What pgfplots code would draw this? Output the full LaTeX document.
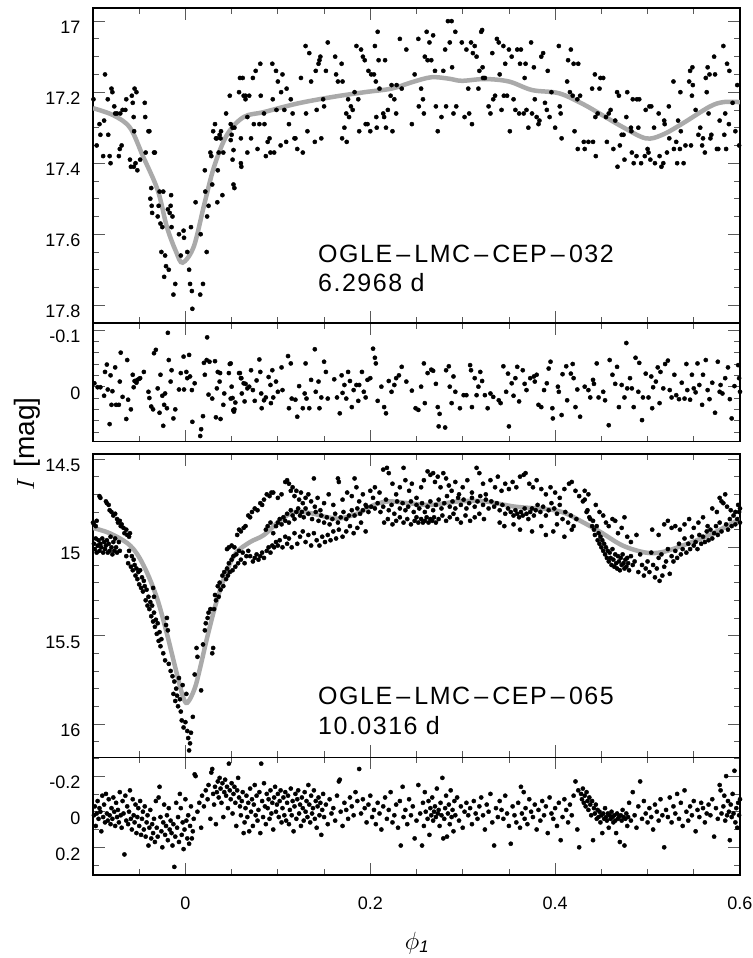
\documentclass[border=0pt]{standalone}
\usepackage{fontspec}
\setmainfont{Liberation Sans}
\newfontfamily\annfont[LetterSpace=6]{Liberation Sans}
\usepackage{pgfplots}
\pgfplotsset{compat=1.18}
\definecolor{fitgray}{RGB}{170,170,170}
\pgfplotsset{
  panel/.style={
    scale only axis, width=647pt, xmin=-0.1, xmax=0.6, y dir=reverse,
    anchor=north west, tick align=inside,
    xtick={0,0.2,0.4,0.6},
    minor xtick={-0.05,0.05,0.1,0.15,0.25,0.3,0.35,0.45,0.5,0.55},
    xticklabels={},
    major tick length=12pt, minor tick length=6pt,
    axis line style={line width=1.5pt},
    tick style={line width=0.8pt, black!65},
    yticklabel style={font=\fontsize{18}{18}\selectfont, xshift=-9pt, yshift=-6.5pt},
    xticklabel style={font=\fontsize{18}{18}\selectfont, yshift=-18.5pt},
    /pgf/number format/assume math mode=true,
  },
  dots/.style={only marks, mark=*, mark size=2.1pt, mark options={draw=none, fill=black}},
  fit/.style={no marks, smooth, tension=0.55, line width=4.5pt, color=fitgray},
}
\begin{document}
\begin{tikzpicture}[x=1pt,y=1pt]
\useasboundingbox (0,0) rectangle (752,-958);

% ---------------- Panel 1 ----------------
\begin{axis}[panel, at={(93pt,-8pt)}, height=315pt, ymin=16.963, ymax=17.85,
  ytick={17,17.2,17.4,17.6,17.8}, yticklabels={17,17.2,17.4,17.6,17.8},
  minor ytick={17.05,17.1,17.15,17.25,17.3,17.35,17.45,17.5,17.55,17.65,17.7,17.75}]
\addplot[fit] coordinates {(-0.1,17.245)(-0.078,17.265)(-0.060,17.30)(-0.046,17.38)(-0.030,17.476)(-0.020,17.58)(-0.010,17.65)(-0.003,17.68)(0.009,17.635)(0.020,17.52)(0.031,17.41)(0.045,17.32)(0.063,17.27)(0.085,17.256)(0.121,17.232)(0.158,17.214)(0.194,17.20)(0.223,17.19)(0.245,17.172)(0.266,17.158)(0.285,17.162)(0.299,17.168)(0.324,17.163)(0.35,17.17)(0.375,17.194)(0.404,17.203)(0.429,17.232)(0.448,17.26)(0.473,17.298)(0.498,17.33)(0.516,17.32)(0.538,17.288)(0.567,17.241)(0.582,17.228)(0.6,17.228)};
\addplot[dots] coordinates {
(-0.0995,17.22)(-0.096,17.35)(-0.093,17.29)(-0.092,17.32)(-0.088,17.28)(-0.087,17.15)(-0.089,17.38)(-0.084,17.22)(-0.0835,17.32)(-0.082,17.38)(-0.081,17.40)(-0.080,17.19)(-0.079,17.20)(-0.077,17.24)(-0.076,17.26)(-0.074,17.26)(-0.072,17.38)(-0.071,17.36)(-0.0705,17.26)(-0.069,17.35)(-0.068,17.25)(-0.065,17.25)(-0.064,17.22)(-0.060,17.39)(-0.059,17.41)(-0.058,17.21)(-0.057,17.23)(-0.056,17.27)(-0.0555,17.31)(-0.0558,17.41)(-0.055,17.19)(-0.054,17.40)(-0.053,17.20)(-0.052,17.42)(-0.049,17.39)(-0.044,17.23)(-0.0435,17.27)(-0.043,17.37)(-0.040,17.31)(-0.039,17.31)(-0.037,17.47)(-0.038,17.50)(-0.0365,17.52)(-0.036,17.54)(-0.034,17.37)(-0.033,17.37)(-0.030,17.55)(-0.029,17.52)(-0.028,17.48)(-0.027,17.57)(-0.026,17.65)(-0.025,17.58)(-0.024,17.48)(-0.023,17.72)(-0.022,17.66)(-0.021,17.69)(-0.019,17.53)(-0.018,17.70)(-0.017,17.54)(-0.016,17.52)(-0.0155,17.49)(-0.015,17.58)(-0.014,17.55)(-0.013,17.77)(-0.011,17.74)(-0.007,17.60)(-0.005,17.66)(-0.002,17.59)(-0.0015,17.61)(0.002,17.65)(0.004,17.70)(0.005,17.74)(0.007,17.76)(0.006,17.58)(0.0075,17.81)(0.011,17.51)(0.016,17.77)(0.0165,17.60)(0.019,17.74)(0.021,17.42)(0.0215,17.48)(0.023,17.65)(0.0235,17.55)(0.025,17.52)(0.027,17.37)(0.028,17.38)(0.029,17.46)(0.030,17.31)(0.032,17.29)(0.033,17.33)(0.034,17.33)(0.0345,17.51)(0.035,17.42)(0.036,17.37)(0.038,17.33)(0.037,17.32)(0.0385,17.31)(0.040,17.49)(0.041,17.37)(0.044,17.26)(0.048,17.21)(0.049,17.29)(0.050,17.32)(0.051,17.30)(0.052,17.46)(0.053,17.30)(0.058,17.20)(0.059,17.16)(0.060,17.40)(0.063,17.21)(0.065,17.21)(0.067,17.27)
(0.049,17.335)(0.052,17.363)(0.051,17.39)(0.053,17.47)(0.060,17.33)(0.0605,17.41)(0.062,17.16)(0.065,17.22)(0.067,17.37)(0.069,17.21)(0.071,17.33)(0.073,17.16)(0.074,17.29)(0.076,17.14)(0.078,17.36)(0.080,17.29)(0.081,17.12)(0.0815,17.21)(0.085,17.26)(0.0855,17.29)(0.087,17.38)(0.089,17.34)(0.091,17.33)(0.092,17.37)(0.094,17.12)(0.0945,17.22)(0.096,17.37)(0.098,17.14)(0.0985,17.25)(0.100,17.17)(0.103,17.35)(0.1035,17.20)(0.105,17.15)(0.107,17.25)(0.109,17.34)(0.1095,17.19)(0.112,17.29)(0.114,17.22)(0.116,17.26)(0.118,17.33)(0.119,17.33)(0.121,17.36)(0.125,17.16)(0.127,17.37)(0.130,17.07)(0.1305,17.26)(0.132,17.31)(0.134,17.09)(0.136,17.17)(0.140,17.34)(0.141,17.14)(0.142,17.25)(0.144,17.12)(0.145,17.11)(0.146,17.10)(0.147,17.33)(0.149,17.22)(0.150,17.24)(0.152,17.14)(0.154,17.06)(0.162,17.10)(0.163,17.15)(0.165,17.17)(0.169,17.12)(0.1695,17.33)(0.170,17.17)(0.172,17.30)(0.174,17.26)(0.1745,17.34)(0.176,17.22)(0.177,17.27)(0.179,17.24)(0.181,17.25)(0.183,17.20)(0.185,17.07)(0.187,17.22)(0.188,17.31)(0.190,17.08)(0.192,17.10)(0.194,17.11)(0.195,17.29)(0.197,17.29)(0.198,17.14)(0.200,17.31)(0.201,17.15)(0.204,17.15)(0.205,17.07)(0.206,17.17)(0.2065,17.27)(0.207,17.30)(0.208,17.03)(0.209,17.11)(0.210,17.19)(0.214,17.26)(0.215,17.27)(0.216,17.11)(0.217,17.30)(0.219,17.25)(0.222,17.21)(0.223,17.18)(0.224,17.31)(0.226,17.22)(0.228,17.26)(0.2285,17.18)(0.232,17.05)(0.234,17.19)(0.239,17.08)(0.245,17.29)(0.248,17.15)(0.252,17.05)(0.2525,17.24)(0.255,17.19)(0.257,17.22)(0.258,17.26)(0.259,17.10)(0.261,17.03)(0.262,17.11)(0.264,17.06)(0.266,17.11)(0.268,17.04)(0.270,17.14)(0.271,17.24)(0.273,17.31)(0.277,17.27)(0.279,17.14)(0.281,17.08)(0.282,17.24)(0.284,17.00)(0.286,17.06)(0.288,17.00)(0.2885,17.13)(0.290,17.26)(0.292,17.03)(0.293,17.24)(0.299,17.06)(0.302,17.27)(0.304,17.08)(0.306,17.19)(0.307,17.26)(0.309,17.06)(0.310,17.29)(0.311,17.09)(0.313,17.07)(0.315,17.10)(0.317,17.19)(0.318,17.14)(0.320,17.03)(0.322,17.16)
(0.321,17.025)(0.3215,17.13)(0.324,17.16)(0.328,17.24)(0.330,17.26)(0.332,17.09)(0.333,17.22)(0.335,17.21)(0.337,17.05)(0.339,17.06)(0.340,17.15)(0.342,17.25)(0.344,17.07)(0.3445,17.21)(0.346,17.12)(0.348,17.21)(0.350,17.08)(0.351,17.31)(0.353,17.10)(0.355,17.22)(0.357,17.25)(0.359,17.08)(0.361,17.26)(0.362,17.12)(0.363,17.08)(0.366,17.26)(0.367,17.16)(0.368,17.12)(0.369,17.25)(0.371,17.30)(0.374,17.06)(0.375,17.26)(0.377,17.13)(0.378,17.22)(0.380,17.27)(0.382,17.29)(0.383,17.28)(0.385,17.10)(0.387,17.09)(0.389,17.23)(0.391,17.25)(0.392,17.14)(0.394,17.27)(0.396,17.20)(0.400,17.30)(0.404,17.07)(0.405,17.24)(0.406,17.26)(0.407,17.33)(0.413,17.17)(0.414,17.11)(0.416,17.20)(0.417,17.08)(0.419,17.21)(0.420,17.12)(0.421,17.31)(0.424,17.22)(0.4245,17.36)(0.425,17.12)(0.427,17.21)(0.431,17.34)(0.432,17.36)(0.436,17.34)(0.440,17.19)(0.441,17.34)(0.443,17.15)(0.4435,17.27)(0.444,17.38)(0.446,17.26)(0.448,17.19)(0.449,17.16)(0.452,17.16)(0.455,17.27)(0.456,17.34)(0.458,17.26)(0.460,17.25)(0.463,17.36)(0.465,17.28)(0.467,17.20)(0.4675,17.41)(0.469,17.21)(0.470,17.35)(0.472,17.32)(0.474,17.32)(0.475,17.39)(0.477,17.27)(0.478,17.20)(0.482,17.30)(0.4825,17.31)(0.483,17.37)(0.484,17.22)(0.485,17.40)(0.488,17.38)(0.4885,17.22)(0.490,17.30)(0.491,17.22)(0.493,17.40)(0.497,17.38)(0.498,17.25)(0.500,17.36)(0.501,17.37)(0.502,17.24)(0.503,17.39)(0.504,17.24)(0.507,17.30)(0.508,17.40)(0.512,17.26)(0.513,17.38)(0.515,17.41)(0.517,17.40)(0.518,17.28)(0.5185,17.29)(0.521,17.37)(0.523,17.24)(0.5235,17.33)(0.528,17.17)(0.5285,17.36)(0.531,17.34)(0.532,17.40)(0.533,17.28)(0.535,17.36)(0.5355,17.20)(0.536,17.31)(0.539,17.40)(0.541,17.35)(0.545,17.17)(0.546,17.14)(0.547,17.35)(0.548,17.21)(0.5485,17.13)(0.549,17.18)(0.552,17.25)(0.555,17.32)(0.557,17.30)(0.559,17.35)(0.560,17.33)(0.562,17.37)(0.563,17.16)(0.564,17.20)(0.565,17.13)(0.566,17.26)(0.567,17.15)(0.568,17.33)(0.569,17.32)(0.572,17.10)(0.573,17.15)(0.575,17.36)(0.5765,17.36)(0.578,17.28)(0.582,17.07)(0.583,17.32)(0.584,17.26)(0.585,17.36)(0.586,17.12)(0.588,17.29)(0.5885,17.14)(0.592,17.23)(0.595,17.31)(0.597,17.18)(0.599,17.35)
};
\end{axis}

% ---------------- Panel 2 ----------------
\begin{axis}[panel, at={(93pt,-323pt)}, height=118.5pt, ymin=-0.1123, ymax=0.0967,
  ytick={-0.1,0}, yticklabels={-0.1,0},
  minor ytick={-0.08,-0.06,-0.04,-0.02,0.02,0.04,0.06,0.08}]
\addplot[dots] coordinates {
(-0.0985,-0.006)(-0.095,0.001)(-0.092,0.001)(-0.088,0.016)(-0.087,-0.026)(-0.085,-0.039)(-0.084,0.005)(-0.082,0.066)(-0.081,-0.020)(-0.080,0.032)(-0.079,0.008)(-0.076,-0.034)(-0.075,0.032)(-0.072,0.032)(-0.071,-0.009)(-0.070,-0.060)(-0.068,0.018)(-0.064,0.057)(-0.063,-0.047)(-0.062,0.023)(-0.059,0.040)(-0.057,-0.021)(-0.056,0.001)(-0.055,-0.010)(-0.053,-0.007)(-0.052,-0.012)(-0.050,-0.014)(-0.049,-0.015)(-0.045,-0.026)(-0.040,0.009)(-0.039,0.020)(-0.037,0.035)(-0.035,0.040)(-0.034,-0.059)(-0.032,-0.065)(-0.030,0.003)(-0.028,0.046)(-0.027,-0.021)(-0.025,0.016)(-0.024,0.069)(-0.023,0.032)(-0.022,0.012)(-0.020,0.038)(-0.019,-0.095)(-0.018,-0.047)(-0.016,-0.009)(-0.015,-0.029)(-0.013,0.056)(-0.011,0.040)(-0.007,0.005)(-0.005,-0.024)(-0.002,-0.053)(-0.0015,0.005)(0.001,-0.026)(0.002,-0.015)(0.004,-0.056)(0.005,-0.018)(0.007,0.006)(0.0075,0.062)(0.010,-0.006)(0.016,0.087)(0.017,0.075)(0.019,0.052)(0.020,-0.042)(0.021,-0.021)(0.023,-0.047)(0.0235,-0.087)(0.025,0.014)(0.026,-0.044)(0.029,0.021)(0.032,-0.045)(0.033,0.054)(0.034,0.003)(0.035,-0.026)(0.037,-0.009)(0.038,0.057)(0.0375,-0.024)(0.041,0.032)(0.042,0.012)(0.047,-0.024)(0.048,-0.040)(0.049,0.021)(0.052,0.042)(0.053,0.040)(0.054,0.028)(0.059,-0.024)(0.060,-0.015)(0.061,0.012)(0.065,-0.005)(0.069,0.000)
(0.049,-0.041)(0.050,0.000)(0.051,0.020)(0.052,0.041)(0.0525,0.044)(0.058,-0.024)(0.0605,-0.015)(0.063,-0.006)(0.064,0.026)(0.067,0.003)(0.071,-0.029)(0.073,0.006)(0.075,0.025)(0.077,-0.011)(0.080,-0.048)(0.081,-0.026)(0.082,0.012)(0.0825,0.038)(0.085,0.024)(0.087,0.019)(0.090,-0.017)(0.092,-0.003)(0.0925,0.029)(0.094,-0.029)(0.095,0.019)(0.098,-0.009)(0.100,0.009)(0.104,-0.034)(0.105,0.006)(0.111,-0.054)(0.112,0.038)(0.114,-0.041)(0.115,0.021)(0.119,0.023)(0.121,0.053)(0.123,-0.001)(0.127,0.038)(0.129,0.012)(0.130,-0.041)(0.131,0.021)(0.134,0.038)(0.136,-0.012)(0.140,-0.066)(0.141,0.009)(0.144,-0.009)(0.145,0.038)(0.147,0.019)(0.150,-0.044)(0.152,-0.026)(0.154,0.021)(0.161,-0.013)(0.164,0.019)(0.167,0.047)(0.169,-0.020)(0.170,0.011)(0.172,-0.003)(0.174,0.021)(0.176,-0.026)(0.178,-0.010)(0.180,0.036)(0.182,0.006)(0.185,-0.003)(0.187,0.025)(0.188,-0.003)(0.191,-0.026)(0.193,0.009)(0.195,0.019)(0.197,-0.012)(0.200,-0.015)(0.203,-0.067)(0.205,-0.051)(0.206,-0.041)(0.208,0.025)(0.212,0.000)(0.215,0.036)(0.217,0.047)(0.220,-0.010)(0.223,0.009)(0.226,-0.003)(0.228,-0.015)(0.231,-0.020)(0.234,-0.035)(0.239,-0.009)(0.245,0.007)(0.249,0.038)(0.252,0.041)(0.255,0.000)(0.258,-0.041)(0.259,0.029)(0.262,-0.024)(0.266,-0.030)(0.268,-0.028)(0.271,-0.005)(0.273,0.036)(0.274,0.070)(0.275,0.048)(0.281,0.072)(0.282,-0.029)(0.285,-0.036)(0.286,0.000)(0.288,0.029)(0.290,-0.018)(0.292,0.009)(0.297,0.038)(0.301,0.015)(0.304,0.015)(0.308,-0.038)(0.309,-0.029)(0.310,0.036)(0.313,-0.015)(0.315,0.015)(0.317,0.000)(0.319,-0.026)(0.321,-0.010)(0.324,0.015)(0.327,0.038)(0.330,0.012)(0.333,0.018)(0.339,0.024)(0.341,0.029)(0.344,-0.036)(0.347,0.009)(0.349,-0.023)(0.350,0.070)(0.353,-0.006)(0.355,0.016)(0.357,-0.015)(0.359,-0.035)(0.361,0.026)(0.365,-0.029)(0.367,-0.005)(0.369,0.006)(0.373,-0.015)(0.377,-0.018)(0.378,-0.009)(0.380,-0.021)(0.382,0.032)(0.385,0.036)(0.388,0.006)(0.391,-0.006)(0.393,-0.032)(0.395,-0.044)(0.397,0.038)(0.3975,0.056)(0.403,0.000)(0.404,0.009)(0.407,0.050)(0.408,-0.022)(0.412,-0.036)(0.413,0.024)(0.417,-0.023)(0.419,-0.040)(0.420,-0.015)(0.422,0.036)(0.424,0.005)(0.427,0.053)(0.432,0.000)(0.436,0.006)(0.438,0.019)(0.441,-0.012)(0.442,-0.005)(0.445,-0.041)(0.447,0.019)(0.452,0.009)(0.454,0.024)(0.458,0.068)(0.459,-0.047)(0.462,-0.021)(0.465,-0.005)(0.467,-0.035)(0.469,0.036)(0.472,-0.003)(0.475,0.019)(0.477,-0.077)(0.478,0.003)(0.481,-0.015)(0.483,0.003)(0.485,0.036)(0.487,-0.051)(0.490,0.009)(0.491,-0.042)(0.494,0.059)(0.495,0.019)(0.498,-0.023)(0.501,0.019)(0.504,-0.018)(0.505,0.038)(0.506,0.001)(0.509,-0.009)(0.511,-0.034)(0.513,0.029)(0.514,-0.026)(0.517,0.003)(0.519,-0.040)(0.522,-0.046)(0.524,0.006)(0.526,0.019)(0.529,-0.021)(0.531,0.015)(0.534,0.022)(0.537,-0.007)(0.540,0.021)(0.542,-0.040)(0.543,0.006)(0.546,0.023)(0.548,-0.021)(0.550,0.003)(0.552,0.010)(0.554,-0.041)(0.556,-0.003)(0.559,0.032)(0.560,-0.021)(0.563,-0.047)(0.565,0.006)(0.567,0.022)(0.570,-0.007)(0.573,0.046)(0.576,-0.044)(0.578,0.009)(0.579,-0.003)(0.581,0.012)(0.584,-0.015)(0.587,-0.034)(0.589,0.022)(0.591,0.056)(0.594,-0.001)(0.598,-0.038)(0.599,-0.015)(0.600,0.009)
};
\end{axis}

% ---------------- Panel 3 ----------------
\begin{axis}[panel, at={(93pt,-454pt)}, height=303.3pt, ymin=14.4717, ymax=16.189,
  ytick={14.5,15,15.5,16}, yticklabels={14.5,15,15.5,16},
  minor ytick={14.6,14.7,14.8,14.9,15.1,15.2,15.3,15.4,15.6,15.7,15.8,15.9,16.1}]
\addplot[fit] coordinates {(-0.1,14.89)(-0.082,14.92)(-0.063,14.976)(-0.052,15.04)(-0.041,15.15)(-0.03,15.30)(-0.02,15.49)(-0.011,15.68)(-0.003,15.84)(0.002,15.88)(0.010,15.80)(0.016,15.68)(0.024,15.50)(0.034,15.30)(0.045,15.13)(0.055,15.03)(0.07,14.97)(0.085,14.93)(0.103,14.845)(0.118,14.80)(0.136,14.807)(0.154,14.83)(0.168,14.836)(0.187,14.807)(0.204,14.76)(0.22,14.74)(0.241,14.75)(0.266,14.76)(0.296,14.74)(0.324,14.74)(0.357,14.77)(0.393,14.785)(0.411,14.807)(0.429,14.855)(0.448,14.91)(0.473,14.99)(0.498,15.03)(0.516,15.027)(0.538,14.99)(0.567,14.93)(0.6,14.84)};
\addplot[dots] coordinates {
(-0.099,14.98)(-0.098,15.01)(-0.097,14.95)(-0.096,15.03)(-0.095,14.99)(-0.094,14.96)(-0.093,15.02)(-0.092,14.98)(-0.091,15.0)(-0.090,14.95)(-0.089,15.03)(-0.088,14.97)(-0.087,15.01)(-0.086,14.99)(-0.085,14.96)(-0.084,15.03)(-0.083,14.98)(-0.082,15.02)(-0.081,14.94)(-0.080,15.0)(-0.079,15.04)(-0.078,14.97)(-0.077,15.02)(-0.076,14.95)(-0.075,15.0)(-0.074,15.03)(-0.072,14.97)(-0.071,15.02)
(-0.1,14.86)(-0.099,14.87)(-0.097,14.88)(-0.096,14.85)(-0.093,14.71)(-0.092,14.72)(-0.086,14.74)(-0.085,14.75)(-0.083,14.76)(-0.082,14.79)(-0.080,14.80)(-0.078,14.82)(-0.076,14.81)(-0.074,14.84)(-0.073,14.86)(-0.071,14.85)(-0.070,14.88)(-0.069,14.87)(-0.067,14.89)(-0.066,14.92)(-0.064,14.90)(-0.063,14.93)(-0.061,14.94)(-0.060,14.92)
(-0.064,15.05)(-0.062,15.09)(-0.061,15.02)(-0.059,15.11)(-0.058,15.05)(-0.057,15.13)(-0.056,15.07)(-0.055,15.10)(-0.054,15.16)(-0.053,15.12)(-0.052,15.18)(-0.051,15.14)(-0.050,15.21)(-0.049,15.13)(-0.048,15.23)(-0.047,15.17)(-0.046,15.25)(-0.045,15.19)(-0.044,15.22)(-0.043,15.30)(-0.042,15.24)(-0.041,15.33)(-0.040,15.28)(-0.039,15.35)(-0.038,15.31)(-0.037,15.39)(-0.036,15.33)(-0.035,15.42)(-0.034,15.37)(-0.033,15.45)(-0.032,15.41)(-0.031,15.49)(-0.030,15.43)(-0.029,15.53)(-0.028,15.48)(-0.027,15.56)(-0.026,15.52)(-0.035,15.23)(-0.034,15.28)(-0.020,15.40)(-0.021,15.44)(-0.019,15.47)
(-0.024,15.60)(-0.022,15.64)(-0.018,15.66)(-0.016,15.70)(-0.014,15.73)(-0.012,15.76)(-0.010,15.80)(-0.013,15.83)(-0.011,15.87)(-0.008,15.90)(-0.006,15.86)(-0.005,15.93)(-0.004,15.98)(-0.002,16.02)(0.0,15.99)(0.002,16.04)(0.003,16.08)(0.005,16.11)(0.004,16.15)(0.006,16.05)(0.008,15.96)(-0.009,15.84)(-0.003,15.78)(0.001,15.83)(-0.007,15.74)
(0.010,15.72)(0.012,15.57)(0.013,15.62)(0.017,15.81)(0.019,15.55)(0.021,15.47)(0.022,15.43)(0.024,15.40)(0.025,15.37)(0.027,15.35)(0.029,15.60)(0.030,15.57)(0.031,15.35)(0.032,15.27)(0.033,15.30)(0.035,15.22)(0.036,15.28)(0.037,15.20)(0.038,15.24)(0.040,15.16)(0.041,15.22)(0.042,15.14)(0.044,15.18)(0.045,15.12)(0.046,15.16)(0.047,15.09)(0.048,15.14)(0.050,15.07)(0.051,15.13)(0.052,15.05)(0.054,15.11)(0.055,15.04)(0.057,15.09)(0.058,15.02)(0.060,15.07)(0.062,15.03)(0.064,15.09)(0.066,15.05)(0.068,15.02)
(0.045,15.01)(0.047,15.0)(0.050,14.99)(0.053,15.0)(0.056,14.93)(0.058,14.90)(0.060,14.91)(0.063,14.89)(0.065,14.88)(0.068,14.82)(0.070,14.83)(0.072,14.80)(0.075,14.78)(0.078,14.79)(0.081,14.75)(0.083,14.76)(0.085,14.73)(0.088,14.70)(0.091,14.71)(0.093,14.69)(0.095,14.69)
(0.070,15.05)(0.073,15.08)(0.075,15.06)(0.077,15.04)(0.079,15.07)(0.081,15.05)(0.083,15.03)(0.085,15.06)(0.088,15.02)(0.090,15.0)(0.092,15.03)(0.094,14.99)(0.096,15.0)(0.098,14.97)(0.100,14.99)
(0.087,14.90)(0.089,14.88)(0.092,14.86)(0.095,14.92)(0.098,14.88)(0.100,14.86)(0.102,14.84)(0.104,14.87)(0.106,14.83)(0.108,14.85)(0.110,14.81)(0.112,14.86)(0.114,14.79)(0.116,14.82)(0.118,14.84)(0.120,14.80)(0.122,14.78)(0.124,14.82)(0.126,14.80)(0.128,14.83)(0.130,14.78)
(0.102,14.96)(0.105,15.00)(0.108,14.94)(0.110,14.98)(0.112,14.95)(0.115,15.00)(0.118,14.92)(0.121,14.98)(0.124,14.94)(0.127,14.91)(0.130,14.97)(0.133,14.93)(0.136,14.99)(0.139,14.92)(0.142,14.96)(0.145,14.99)(0.148,14.94)(0.151,14.97)(0.154,14.93)(0.157,14.96)(0.160,14.91)(0.163,14.95)(0.166,14.90)(0.170,14.94)(0.174,14.91)(0.178,14.88)(0.182,14.92)(0.186,14.89)(0.190,14.86)(0.195,14.91)
(0.100,14.72)(0.104,14.70)(0.108,14.63)(0.110,14.62)(0.112,14.64)(0.114,14.68)(0.116,14.66)(0.118,14.71)(0.120,14.68)(0.123,14.73)(0.125,14.69)(0.127,14.75)(0.130,14.72)(0.133,14.70)(0.136,14.74)(0.139,14.61)(0.140,14.77)(0.143,14.72)(0.146,14.79)(0.150,14.75)(0.155,14.70)(0.160,14.76)(0.165,14.61)(0.166,14.63)(0.170,14.73)(0.175,14.69)(0.180,14.71)(0.183,14.61)(0.185,14.66)(0.188,14.74)(0.192,14.70)(0.196,14.77)(0.200,14.68)(0.203,14.72)
(0.133,14.81)(0.137,14.84)(0.141,14.80)(0.144,14.85)(0.147,14.82)(0.150,14.86)(0.153,14.83)(0.156,14.87)(0.159,14.84)(0.162,14.81)(0.165,14.86)(0.168,14.83)(0.171,14.80)(0.174,14.84)(0.177,14.82)(0.180,14.79)(0.183,14.82)(0.186,14.78)(0.189,14.81)(0.192,14.79)(0.195,14.76)(0.198,14.80)(0.201,14.77)
(0.205,14.66)(0.210,14.69)(0.214,14.56)(0.218,14.55)(0.220,14.58)(0.224,14.64)(0.228,14.70)(0.232,14.66)(0.236,14.55)(0.238,14.62)(0.242,14.68)(0.245,14.64)(0.250,14.72)(0.255,14.66)(0.258,14.62)(0.262,14.57)(0.265,14.59)(0.268,14.58)(0.270,14.63)(0.273,14.60)(0.276,14.66)(0.279,14.58)(0.282,14.61)(0.285,14.65)(0.288,14.68)(0.292,14.63)(0.296,14.70)(0.300,14.66)(0.305,14.62)(0.310,14.69)(0.315,14.55)(0.318,14.58)(0.322,14.64)(0.325,14.70)
(0.205,14.78)(0.208,14.75)(0.211,14.80)(0.214,14.77)(0.217,14.73)(0.220,14.79)(0.223,14.76)(0.226,14.81)(0.229,14.74)(0.232,14.78)(0.235,14.75)(0.238,14.79)(0.241,14.77)(0.244,14.74)(0.247,14.80)(0.250,14.76)(0.253,14.78)(0.256,14.75)(0.259,14.80)(0.262,14.77)(0.265,14.74)(0.268,14.79)(0.271,14.76)(0.274,14.73)(0.277,14.78)(0.280,14.75)(0.283,14.71)(0.286,14.77)(0.289,14.74)(0.292,14.78)(0.295,14.72)(0.298,14.76)(0.301,14.73)(0.304,14.78)(0.307,14.75)(0.310,14.72)(0.313,14.77)(0.316,14.74)(0.319,14.71)(0.322,14.76)(0.325,14.73)(0.328,14.78)
(0.215,14.86)(0.219,14.84)(0.224,14.87)(0.228,14.85)(0.232,14.83)(0.236,14.86)(0.240,14.84)(0.244,14.87)(0.248,14.85)(0.250,14.83)(0.252,14.86)(0.255,14.84)(0.257,14.86)(0.259,14.85)(0.261,14.83)(0.263,14.86)(0.265,14.84)(0.267,14.85)(0.269,14.83)(0.271,14.86)(0.274,14.84)(0.278,14.82)(0.282,14.85)(0.286,14.83)(0.290,14.81)(0.294,14.84)(0.298,14.86)(0.303,14.82)(0.308,14.85)(0.313,14.83)(0.318,14.81)(0.323,14.84)
(0.330,14.62)(0.335,14.66)(0.338,14.60)(0.342,14.68)(0.346,14.64)(0.350,14.67)(0.354,14.63)(0.358,14.66)(0.362,14.60)(0.366,14.59)(0.368,14.58)(0.372,14.64)(0.376,14.66)(0.380,14.62)(0.385,14.67)(0.390,14.70)(0.395,14.66)(0.400,14.69)(0.405,14.72)(0.410,14.67)(0.415,14.64)(0.418,14.63)(0.422,14.68)(0.426,14.71)
(0.331,14.74)(0.334,14.77)(0.337,14.75)(0.340,14.79)(0.343,14.76)(0.346,14.81)(0.349,14.78)(0.352,14.80)(0.355,14.82)(0.357,14.79)(0.359,14.81)(0.361,14.83)(0.363,14.80)(0.365,14.82)(0.367,14.78)(0.369,14.81)(0.371,14.84)(0.373,14.80)(0.375,14.78)(0.377,14.82)(0.379,14.79)(0.381,14.76)(0.384,14.80)(0.387,14.77)(0.390,14.82)(0.393,14.79)(0.396,14.75)(0.399,14.78)(0.402,14.81)(0.405,14.76)(0.408,14.84)(0.411,14.80)(0.414,14.86)(0.417,14.82)(0.420,14.88)(0.423,14.84)
(0.340,14.86)(0.345,14.88)(0.355,14.87)(0.362,14.90)(0.375,14.91)(0.385,14.88)(0.390,14.93)(0.398,14.91)(0.402,14.87)(0.410,14.94)(0.418,14.90)
(0.430,14.74)(0.432,14.73)(0.434,14.80)(0.435,14.79)(0.437,14.83)(0.438,14.84)(0.440,14.88)(0.441,14.85)(0.442,14.90)(0.443,14.93)(0.445,14.88)(0.446,14.96)(0.447,14.92)(0.448,14.98)(0.449,14.94)(0.450,15.00)(0.451,14.96)(0.452,15.02)(0.453,14.98)(0.454,15.04)(0.455,15.00)(0.456,15.06)(0.457,15.02)(0.458,15.08)(0.459,15.03)(0.460,15.06)(0.461,15.10)(0.462,15.01)(0.463,15.07)(0.464,15.11)(0.465,15.04)(0.466,15.09)(0.467,15.12)(0.468,15.05)(0.469,15.08)(0.470,15.13)(0.471,15.06)(0.472,15.10)(0.473,15.04)(0.474,15.09)(0.475,15.12)(0.476,15.07)(0.477,15.11)(0.478,15.06)(0.479,15.09)(0.480,15.13)(0.482,15.05)(0.484,15.10)(0.486,15.08)
(0.432,14.68)(0.436,14.70)(0.444,14.76)(0.448,14.80)(0.452,14.82)(0.455,14.86)(0.458,14.88)(0.462,14.84)(0.465,14.85)(0.468,14.92)(0.472,14.89)(0.475,14.83)(0.478,14.94)(0.482,14.97)(0.488,14.93)
(0.490,15.14)(0.492,15.04)(0.494,15.10)(0.496,15.16)(0.498,15.12)(0.500,15.08)(0.502,15.14)(0.504,15.03)(0.506,15.10)(0.508,15.17)(0.510,15.12)(0.512,15.06)(0.513,15.19)(0.515,15.04)(0.516,15.16)(0.518,15.11)(0.520,15.08)(0.522,15.01)(0.524,15.15)(0.526,15.05)(0.528,15.08)(0.530,15.02)(0.532,15.06)(0.534,14.98)(0.536,15.04)(0.538,15.01)(0.540,14.95)(0.542,15.03)(0.544,14.98)(0.546,15.01)(0.548,14.94)(0.550,14.99)(0.552,14.97)(0.554,15.01)(0.556,14.93)(0.558,14.98)(0.560,14.94)(0.562,14.97)(0.564,14.91)(0.566,14.96)(0.568,14.90)(0.570,14.95)(0.572,14.92)(0.574,14.88)(0.576,14.93)(0.578,14.86)(0.580,14.91)(0.582,14.75)(0.584,14.70)(0.585,14.87)(0.587,14.90)(0.589,14.84)(0.591,14.88)(0.593,14.82)(0.595,14.87)(0.597,14.84)(0.599,14.80)(0.600,14.86)
(0.505,14.90)(0.512,14.93)(0.518,14.87)(0.522,14.85)(0.526,14.89)(0.530,14.88)(0.535,14.90)(0.540,14.87)(0.545,14.84)(0.550,14.89)(0.555,14.86)(0.560,14.83)(0.565,14.88)(0.570,14.78)(0.575,14.80)(0.578,14.72)(0.580,14.74)(0.586,14.77)(0.590,14.79)(0.595,14.80)(0.598,14.76)(0.600,14.78)
};
\end{axis}

% ---------------- Panel 4 ----------------
\begin{axis}[panel, at={(93pt,-757.3pt)}, height=117.7pt, ymin=-0.3056, ymax=0.3556,
  ytick={-0.2,0,0.2}, yticklabels={-0.2,0,0.2},
  minor ytick={-0.3,-0.1,0.1,0.3},
  xticklabels={0,0.2,0.4,0.6}]
\addplot[dots] coordinates {
(-0.099,0.02)(-0.098,-0.03)(-0.097,0.08)(-0.096,0.01)(-0.095,-0.06)(-0.094,0.04)(-0.093,-0.02)(-0.092,0.00)(-0.091,0.11)(-0.090,-0.09)(-0.089,0.03)(-0.088,-0.04)(-0.087,0.06)(-0.086,-0.10)(-0.085,0.01)(-0.084,0.05)(-0.083,-0.07)(-0.082,0.02)(-0.081,0.07)(-0.080,-0.02)(-0.079,0.04)(-0.078,-0.08)(-0.077,0.00)(-0.076,0.08)(-0.075,-0.05)(-0.074,0.03)(-0.073,-0.01)(-0.072,0.06)(-0.071,-0.11)(-0.070,0.02)(-0.069,0.09)(-0.068,-0.06)(-0.067,0.01)(-0.066,0.24)(-0.065,-0.09)(-0.064,0.05)(-0.063,-0.03)(-0.062,0.07)(-0.061,0.00)(-0.060,-0.12)(-0.059,0.04)(-0.058,0.10)(-0.057,-0.07)(-0.056,0.02)(-0.055,0.06)(-0.054,-0.04)(-0.053,0.12)(-0.052,0.03)(-0.051,-0.02)(-0.050,0.08)(-0.049,-0.06)(-0.048,0.13)(-0.047,0.04)(-0.046,0.00)(-0.045,0.10)(-0.044,-0.03)(-0.043,0.14)(-0.042,0.06)(-0.041,0.02)(-0.040,0.19)(-0.039,0.09)(-0.038,-0.01)(-0.037,0.15)(-0.036,0.07)(-0.035,0.12)(-0.034,0.04)(-0.033,0.17)(-0.032,-0.06)(-0.031,0.09)(-0.030,0.14)(-0.029,-0.08)(-0.028,-0.14)(-0.027,0.03)(-0.026,0.11)(-0.025,0.20)(-0.024,0.06)(-0.023,-0.04)(-0.022,0.13)(-0.021,0.08)(-0.020,0.02)(-0.019,0.16)(-0.018,-0.02)(-0.017,0.10)(-0.016,0.05)(-0.015,0.12)(-0.014,0.19)(-0.013,0.07)(-0.012,0.31)(-0.011,0.14)(-0.010,-0.05)(-0.009,0.09)(-0.008,0.03)(-0.007,0.17)(-0.006,-0.10)(-0.005,-0.02)(-0.004,0.13)(-0.003,0.06)(-0.002,0.21)(-0.001,0.10)(0.000,-0.07)(0.001,0.05)(0.002,0.15)(0.003,0.02)(0.004,0.18)(0.005,0.08)(0.006,-0.03)(0.007,0.15)(0.008,0.11)(0.009,0.04)(0.010,-0.21)(0.011,-0.20)(0.013,0.00)(0.015,-0.05)(0.017,0.09)(0.018,-0.09)(0.020,-0.03)(0.022,-0.12)(0.024,-0.07)(0.025,-0.15)(0.027,0.04)(0.028,-0.22)(0.029,-0.24)(0.030,-0.10)(0.031,-0.04)(0.032,-0.14)(0.033,0.07)(0.034,-0.11)(0.035,-0.17)(0.036,-0.08)(0.037,-0.19)(0.038,-0.13)(0.039,-0.05)(0.040,-0.16)(0.041,0.03)(0.042,-0.11)(0.043,-0.18)(0.044,-0.09)(0.045,-0.14)(0.046,-0.02)(0.047,-0.27)(0.048,-0.12)(0.049,-0.07)(0.050,-0.16)(0.051,0.01)(0.052,-0.10)(0.053,-0.14)(0.054,-0.05)(0.055,0.08)(0.056,-0.12)(0.057,-0.19)(0.058,-0.08)(0.059,-0.03)(0.060,0.02)(0.061,-0.06)(0.062,-0.11)(0.063,0.12)(0.064,0.06)(0.065,-0.02)(0.066,-0.09)(0.067,0.03)(0.068,-0.05)(0.069,0.11)(0.070,-0.13)(0.071,0.00)(0.072,-0.07)(0.073,0.08)(0.074,-0.04)(0.075,-0.15)(0.076,0.02)(0.077,-0.09)(0.078,0.05)(0.079,-0.01)(0.080,-0.11)(0.081,0.12)(0.082,-0.27)(0.083,-0.06)(0.084,0.03)(0.085,-0.16)(0.086,-0.03)(0.087,0.07)(0.088,-0.10)(0.089,-0.02)(0.090,-0.07)(0.091,0.04)(0.092,-0.12)(0.093,0.01)(0.094,-0.05)(0.095,0.10)(0.096,-0.08)(0.097,-0.14)(0.098,0.00)(0.099,-0.04)(0.100,-0.10)(0.101,0.03)(0.102,-0.06)(0.103,-0.12)(0.104,0.06)(0.105,-0.02)(0.106,-0.08)(0.107,0.02)(0.108,-0.11)(0.109,0.05)(0.110,-0.05)(0.111,-0.09)(0.112,0.07)(0.113,-0.01)(0.114,-0.13)(0.115,0.02)(0.116,-0.06)(0.117,0.11)(0.118,-0.03)(0.119,-0.10)(0.120,0.04)(0.121,-0.07)(0.122,-0.12)(0.123,0.01)(0.124,-0.04)(0.125,0.08)(0.126,-0.08)(0.127,-0.02)(0.128,0.05)(0.129,-0.11)(0.130,0.00)(0.131,-0.06)(0.132,0.03)(0.133,-0.15)(0.134,-0.04)(0.135,0.06)(0.136,-0.09)(0.137,0.01)(0.138,-0.02)(0.139,-0.12)(0.140,0.04)(0.141,-0.06)(0.142,0.09)(0.143,-0.03)(0.144,-0.08)(0.145,0.02)(0.146,-0.05)(0.147,0.13)(0.148,-0.01)(0.149,-0.10)(0.150,0.03)(0.152,-0.04)(0.154,0.07)(0.156,-0.07)(0.158,0.01)(0.160,-0.02)(0.162,0.05)(0.164,-0.09)(0.166,-0.17)(0.167,-0.18)(0.168,0.00)(0.170,0.08)(0.172,-0.05)(0.174,-0.01)(0.176,0.04)(0.178,-0.08)(0.180,-0.03)(0.182,0.02)(0.184,-0.11)(0.186,-0.06)(0.188,-0.24)(0.190,0.01)(0.192,-0.07)(0.194,-0.02)(0.196,0.06)(0.198,-0.04)(0.200,-0.09)(0.202,0.03)(0.204,-0.01)(0.206,0.07)(0.208,-0.05)(0.210,0.01)(0.212,0.10)(0.214,-0.03)(0.216,-0.08)(0.218,0.04)(0.220,-0.01)(0.222,-0.11)(0.224,0.06)(0.226,0.02)(0.228,-0.04)(0.230,0.09)(0.232,-0.06)(0.233,0.19)(0.235,-0.14)(0.236,0.03)(0.238,-0.01)(0.240,0.07)(0.242,-0.07)(0.244,0.02)(0.246,-0.03)(0.248,0.15)(0.250,0.05)(0.252,-0.15)(0.254,0.01)(0.256,0.19)(0.257,-0.05)(0.258,0.08)(0.259,-0.11)(0.260,0.00)(0.262,0.04)(0.263,-0.06)(0.264,0.13)(0.265,-0.02)(0.266,0.02)(0.267,-0.08)(0.268,0.05)(0.269,0.00)(0.270,-0.03)(0.271,0.03)(0.272,-0.13)(0.273,0.01)(0.274,-0.01)(0.275,0.08)(0.276,-0.05)(0.277,0.02)(0.278,-0.19)(0.279,0.15)(0.280,0.04)(0.281,-0.02)(0.282,-0.09)(0.283,0.14)(0.284,0.01)(0.285,-0.04)(0.286,0.07)(0.287,-0.12)(0.288,0.03)(0.289,-0.01)(0.290,0.11)(0.291,-0.06)(0.292,0.02)(0.294,-0.08)(0.296,0.05)(0.298,-0.03)(0.300,0.09)(0.302,0.00)(0.304,-0.05)(0.306,0.02)(0.308,-0.02)(0.310,0.07)(0.312,-0.06)(0.314,0.01)(0.316,0.04)(0.318,-0.03)(0.320,-0.08)(0.322,0.02)(0.324,0.10)(0.326,-0.04)(0.328,0.00)(0.330,-0.10)(0.332,0.06)(0.334,0.19)(0.336,-0.02)(0.338,0.03)(0.340,-0.06)(0.342,-0.01)(0.344,0.04)(0.346,-0.09)(0.348,0.01)(0.350,0.08)(0.352,0.18)(0.354,-0.03)(0.356,0.02)(0.358,0.06)(0.360,-0.05)(0.362,0.09)(0.363,-0.14)(0.364,0.01)(0.366,-0.11)(0.367,0.04)(0.368,-0.02)(0.370,0.07)(0.372,-0.07)(0.374,0.00)(0.376,0.03)(0.378,-0.04)(0.380,0.10)(0.382,-0.01)(0.384,0.05)(0.386,-0.06)(0.388,0.02)(0.390,-0.03)(0.392,0.12)(0.394,-0.08)(0.396,0.01)(0.398,0.04)(0.400,-0.02)(0.402,0.08)(0.404,-0.05)(0.406,0.16)(0.408,0.03)(0.410,-0.07)(0.412,-0.01)(0.414,0.06)(0.416,-0.04)(0.418,0.02)(0.420,-0.09)(0.422,-0.17)(0.424,0.10)(0.425,-0.12)(0.426,0.20)(0.428,-0.10)(0.429,-0.07)(0.430,-0.13)(0.431,-0.05)(0.432,-0.09)(0.433,-0.03)(0.434,-0.11)(0.435,-0.06)(0.436,-0.01)(0.437,-0.08)(0.438,-0.04)(0.439,0.02)(0.440,-0.06)(0.441,0.16)(0.442,-0.02)(0.443,0.01)(0.444,-0.04)(0.445,0.04)(0.446,-0.01)(0.447,0.03)(0.448,0.00)(0.449,0.06)(0.450,0.02)(0.451,0.12)(0.452,0.01)(0.453,0.04)(0.454,-0.02)(0.455,0.03)(0.456,0.05)(0.457,0.01)(0.458,0.09)(0.459,0.02)(0.460,0.04)(0.461,0.00)(0.462,0.03)(0.463,0.06)(0.464,0.02)(0.465,0.05)(0.466,0.12)(0.467,0.01)(0.468,0.04)(0.469,0.03)(0.470,0.17)(0.471,0.02)(0.472,0.05)(0.473,-0.01)(0.474,0.03)(0.475,0.19)(0.476,0.04)(0.477,0.01)(0.478,0.08)(0.479,0.03)(0.480,-0.05)(0.482,0.05)(0.484,-0.11)(0.486,0.02)(0.488,0.09)(0.490,-0.03)(0.492,-0.17)(0.494,0.04)(0.496,-0.06)(0.498,0.01)(0.500,0.06)(0.502,-0.02)(0.504,0.03)(0.506,0.10)(0.508,-0.04)(0.510,0.00)(0.512,0.05)(0.514,-0.07)(0.516,0.02)(0.518,0.20)(0.520,-0.01)(0.522,0.03)(0.524,-0.08)(0.526,0.06)(0.528,-0.03)(0.530,0.01)(0.532,-0.10)(0.534,0.04)(0.536,-0.05)(0.538,0.08)(0.540,-0.12)(0.542,0.00)(0.544,0.05)(0.546,-0.03)(0.548,0.02)(0.550,-0.06)(0.552,0.11)(0.554,-0.01)(0.556,0.03)(0.558,-0.05)(0.560,-0.02)(0.562,0.06)(0.564,0.01)(0.566,-0.04)(0.568,0.02)(0.570,-0.07)(0.572,0.14)(0.574,-0.02)(0.576,0.04)(0.578,-0.15)(0.579,-0.12)(0.580,0.01)(0.582,-0.03)(0.583,-0.09)(0.584,0.05)(0.585,-0.20)(0.586,0.02)(0.587,-0.06)(0.588,0.00)(0.589,0.16)(0.590,-0.04)(0.591,0.03)(0.592,-0.10)(0.593,0.01)(0.594,-0.23)(0.595,0.06)(0.596,-0.02)(0.597,0.09)(0.598,-0.05)(0.599,0.02)(0.600,-0.07)
};
\end{axis}

% ---------------- Labels ----------------
\node[anchor=base west, inner sep=0pt, font=\annfont\fontsize{25}{29}\selectfont] at (318,-262) {OGLE\,–\,LMC\,–\,CEP\,–\,032};
\node[anchor=base west, inner sep=0pt, font=\annfont\fontsize{25}{29}\selectfont] at (318,-291) {6.2968 d};
\node[anchor=base west, inner sep=0pt, font=\annfont\fontsize{25}{29}\selectfont] at (318,-704) {OGLE\,–\,LMC\,–\,CEP\,–\,065};
\node[anchor=base west, inner sep=0pt, font=\annfont\fontsize{25}{29}\selectfont] at (318,-734) {10.0316 d};
\node[rotate=90, inner sep=0pt, font=\fontsize{28}{30}\selectfont] at (27,-444) {$I$\hspace{10pt}[mag]};
\node[inner sep=0pt, font=\fontsize{24}{26}\selectfont] at (417,-943) {$\phi_{\mathit{1}}$};
\end{tikzpicture}
\end{document}
